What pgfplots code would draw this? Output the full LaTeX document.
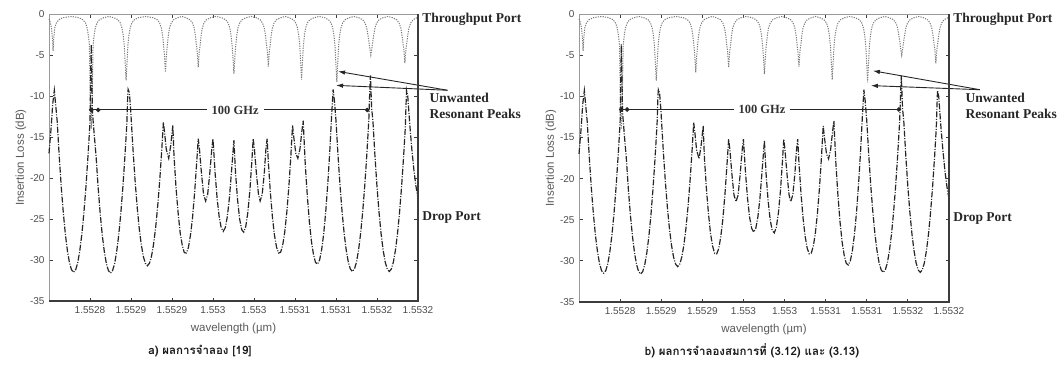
\documentclass[border=0pt]{standalone}
\usepackage{fontspec}
\setmainfont{Liberation Sans}
\newfontfamily\serifnote{Liberation Serif}
\newfontfamily\thaifont[Script=Thai]{Loma}
\usepackage{pgfplots}
\pgfplotsset{compat=1.18}
\usepackage{pgfplotstable}
\usetikzlibrary{arrows.meta}

\definecolor{inkdark}{HTML}{262626}
\definecolor{inkgray}{HTML}{7A7A7A}
\definecolor{framegray}{HTML}{3C3C3C}
\definecolor{framelight}{HTML}{9A9A9A}

% drop-port response (dB) against wavelength step (1 step = 0.05 nm)
\pgfplotstableread{
x y
0.00 -17.0
0.05 -14.0
0.09 -11.0
0.13 -9.3
0.20 -13.1
0.25 -17.4
0.30 -21.15
0.35 -24.3
0.40 -26.9
0.45 -28.9
0.50 -30.35
0.55 -31.2
0.60 -31.5
0.65 -31.2
0.70 -30.35
0.75 -28.9
0.80 -26.9
0.85 -24.3
0.90 -21.15
0.95 -17.4
0.98 -14.9
1.00 -13.1
1.015 -8.0
1.03 -3.7
1.045 -8.0
1.06 -12.0
1.10 -14.5
1.15 -17.5
1.20 -21.25
1.25 -24.4
1.30 -27.0
1.35 -29.0
1.40 -30.45
1.45 -31.3
1.50 -31.6
1.55 -31.3
1.60 -30.45
1.65 -29.0
1.70 -27.0
1.75 -24.4
1.80 -21.25
1.85 -17.5
1.88 -15.0
1.90 -13.2
1.92 -10.0
1.93 -9.2
1.96 -9.6
1.99 -11.5
2.02 -14.1
2.05 -16.6
2.10 -20.35
2.15 -23.5
2.20 -26.1
2.25 -28.1
2.30 -29.55
2.35 -30.4
2.40 -30.7
2.45 -30.4
2.50 -29.55
2.55 -28.1
2.60 -26.1
2.65 -23.5
2.70 -20.35
2.75 -16.6
2.79 -13.2
2.82 -14.5
2.86 -16.5
2.92 -17.6
2.97 -16.0
3.02 -13.6
3.05 -17.4
3.10 -21.3
3.15 -24.3
3.20 -26.7
3.25 -28.2
3.30 -29.1
3.35 -29.15
3.40 -28.5
3.45 -27.0
3.50 -24.9
3.55 -21.9
3.60 -18.3
3.64 -15.2
3.67 -16.5
3.72 -19.5
3.77 -22.0
3.82 -22.8
3.87 -22.0
3.92 -19.5
3.97 -16.5
4.00 -15.2
4.05 -19.3
4.10 -22.45
4.15 -24.7
4.20 -26.05
4.25 -26.5
4.30 -26.05
4.35 -24.7
4.40 -22.45
4.45 -19.3
4.51 -15.4
4.55 -19.4
4.60 -22.7
4.65 -25.0
4.70 -26.3
4.75 -26.6
4.80 -25.9
4.85 -24.2
4.90 -21.5
4.95 -17.8
4.98 -15.2
5.01 -16.5
5.06 -19.5
5.11 -22.0
5.15 -22.8
5.20 -22.0
5.25 -19.5
5.29 -16.5
5.32 -15.2
5.35 -18.05
5.40 -21.8
5.45 -24.8
5.50 -27.0
5.55 -28.45
5.60 -29.15
5.65 -29.05
5.70 -28.2
5.75 -26.6
5.80 -24.2
5.85 -21.1
5.90 -17.2
5.94 -13.6
5.97 -15.0
6.02 -17.0
6.07 -17.6
6.12 -16.5
6.17 -14.2
6.20 -13.0
6.25 -18.3
6.30 -22.15
6.35 -25.3
6.40 -27.7
6.45 -29.3
6.50 -30.3
6.55 -30.5
6.60 -30.0
6.65 -28.75
6.70 -26.8
6.75 -24.1
6.80 -20.7
6.85 -16.6
6.89 -12.7
6.93 -9.2
6.96 -10.5
7.00 -13.0
7.05 -17.3
7.10 -21.05
7.15 -24.2
7.20 -26.8
7.25 -28.8
7.30 -30.25
7.35 -31.1
7.40 -31.4
7.45 -31.1
7.50 -30.25
7.55 -28.8
7.60 -26.8
7.65 -24.2
7.70 -21.05
7.75 -17.3
7.80 -13.0
7.82 -10.0
7.84 -7.5
7.87 -11.5
7.90 -13.0
7.95 -17.3
8.00 -21.05
8.05 -24.2
8.10 -26.8
8.15 -28.8
8.20 -30.25
8.25 -31.1
8.30 -31.4
8.35 -31.1
8.40 -30.25
8.45 -28.8
8.50 -26.8
8.55 -24.2
8.60 -21.05
8.65 -17.3
8.69 -13.9
8.72 -9.3
8.75 -10.0
8.80 -13.5
8.85 -16.5
8.90 -19.0
8.95 -21.0
9.00 -22.5
}\dropport

% through-port response (dB)
\pgfplotstableread{
x y
0.00 -0.6
0.03 -1.0
0.06 -1.7
0.085 -3.0
0.10 -4.5
0.115 -3.0
0.14 -1.7
0.18 -1.1
0.24 -0.7
0.34 -0.45
0.55 -0.3
0.73 -0.45
0.83 -0.7
0.89 -1.1
0.93 -1.7
0.96 -2.6
0.985 -3.8
1.005 -9.8
1.03 -14.0
1.055 -9.8
1.075 -3.8
1.10 -2.6
1.13 -1.7
1.17 -1.1
1.23 -0.7
1.33 -0.45
1.46 -0.3
1.58 -0.45
1.68 -0.7
1.74 -1.1
1.78 -1.7
1.81 -2.6
1.835 -3.8
1.855 -5.7
1.88 -8.1
1.905 -5.7
1.925 -3.8
1.95 -2.6
1.98 -1.7
2.02 -1.1
2.08 -0.7
2.18 -0.45
2.36 -0.3
2.54 -0.45
2.64 -0.7
2.70 -1.1
2.74 -1.7
2.77 -2.6
2.795 -3.8
2.815 -5.0
2.84 -7.1
2.865 -5.0
2.885 -3.8
2.91 -2.6
2.94 -1.7
2.98 -1.1
3.04 -0.7
3.14 -0.45
3.24 -0.3
3.34 -0.45
3.44 -0.7
3.50 -1.1
3.54 -1.7
3.57 -2.6
3.595 -3.8
3.615 -4.6
3.64 -6.5
3.665 -4.6
3.685 -3.8
3.71 -2.6
3.74 -1.7
3.78 -1.1
3.84 -0.7
3.94 -0.45
4.075 -0.3
4.21 -0.45
4.31 -0.7
4.37 -1.1
4.41 -1.7
4.44 -2.6
4.465 -3.8
4.485 -5.1
4.51 -7.3
4.535 -5.1
4.555 -3.8
4.58 -2.6
4.61 -1.7
4.65 -1.1
4.71 -0.7
4.81 -0.45
4.93 -0.3
5.05 -0.45
5.15 -0.7
5.21 -1.1
5.25 -1.7
5.28 -2.6
5.305 -3.8
5.325 -4.5
5.35 -6.4
5.375 -4.5
5.395 -3.8
5.42 -2.6
5.45 -1.7
5.49 -1.1
5.55 -0.7
5.65 -0.45
5.755 -0.3
5.86 -0.45
5.96 -0.7
6.02 -1.1
6.06 -1.7
6.09 -2.6
6.115 -3.8
6.135 -5.6
6.16 -8.0
6.185 -5.6
6.205 -3.8
6.23 -2.6
6.26 -1.7
6.30 -1.1
6.36 -0.7
6.46 -0.45
6.59 -0.3
6.72 -0.45
6.82 -0.7
6.88 -1.1
6.92 -1.7
6.95 -2.6
6.975 -3.8
6.995 -5.8
7.02 -8.3
7.045 -5.8
7.065 -3.8
7.09 -2.6
7.12 -1.7
7.16 -1.1
7.22 -0.7
7.32 -0.45
7.435 -0.3
7.55 -0.45
7.65 -0.7
7.71 -1.1
7.75 -1.7
7.78 -2.6
7.805 -3.4
7.825 -4.2
7.85 -5.0
7.875 -4.2
7.895 -3.4
7.92 -2.6
7.95 -1.7
7.99 -1.1
8.05 -0.7
8.15 -0.45
8.265 -0.3
8.38 -0.45
8.48 -0.7
8.54 -1.1
8.58 -1.7
8.61 -2.6
8.635 -3.6
8.655 -4.3
8.68 -6.0
8.705 -4.3
8.725 -3.6
8.75 -2.6
8.78 -1.7
8.82 -1.1
8.88 -0.7
8.95 -0.5
9.00 -0.45
}\thruport

\pgfplotsset{
  spectrum/.style={
    scale only axis,
    xmin=0, xmax=9, ymin=-35, ymax=0,
    xtick={1,...,9},
    xticklabels={1.5528,1.5529,1.5529,1.553,1.553,1.5531,1.5531,1.5532,1.5532},
    ytick={-35,-30,...,0},
    yticklabels={-35,-30,-25,-20,-15,-10,-5,0},
    tick align=inside,
    major tick length=3.5pt,
    tick style={framegray, line width=0.8pt},
    axis line style={framelight, line width=0.9pt},
    ticklabel style={font=\fontsize{10}{11}\selectfont, text=black!70},
    xticklabel style={yshift=-2pt},
    yticklabel style={xshift=-1pt},
    xlabel={wavelength (µm)},
    ylabel={Insertion Loss (dB)},
    label style={font=\fontsize{11.5}{13}\selectfont, text=black!65},
    xlabel style={yshift=-3pt},
    ylabel style={yshift=-3pt},
    clip=false,
  },
  thru/.style={inkgray, line width=1pt, dash pattern=on 1.2pt off 1.2pt},
  drop/.style={inkdark, line width=1.2pt, dash pattern=on 6pt off 1.5pt on 1pt off 1.5pt},
  spacing/.style={black!85, line width=0.9pt, mark=*, mark size=1.8pt, mark options={solid}},
}
\tikzset{
  note/.style={font=\serifnote\bfseries\fontsize{13.5}{16}\selectfont, text=black!85},
  gap/.style={fill=white, inner xsep=5pt, inner ysep=1pt, font=\serifnote\bfseries\fontsize{12.5}{13}\selectfont, text=black!80},
  peakarrow/.style={black!85, line width=0.9pt, -{Latex[length=7pt,width=4.5pt]}},
  darkframe/.style={framegray, line width=1.3pt},
  caption/.style={font=\thaifont\bfseries\fontsize{11.5}{13}\selectfont, text=black!90},
}

\begin{document}
\begin{tikzpicture}
\path[use as bounding box] (0,0) rectangle (1064pt,368pt);

% ---- panel a ----
\begin{axis}[spectrum, at={(49pt,67pt)}, anchor=south west, width=369pt, height=287pt]
  \addplot[thru] table {\thruport};
  \addplot[drop] table {\dropport};
  \addplot[spacing] coordinates {(1.03,-11.7) (1.2,-11.7) (7.76,-11.7)};
  \node[gap] at (axis cs:4.54,-11.7) {100 GHz};
  \node[note, anchor=west] at (axis cs:9.02,-0.7) {Throughput Port};
  \node[note, anchor=west] at (axis cs:9.02,-24.8) {Drop Port};
  \node[note, anchor=west, align=left, inner sep=0pt] at (axis cs:9.28,-11.2) {Unwanted\\Resonant Peaks};
  \draw[peakarrow] (axis cs:9.72,-9.3) -- (axis cs:7.05,-7.0);
  \draw[peakarrow] (axis cs:9.72,-9.3) -- (axis cs:7.0,-8.7);
  \draw[darkframe] (rel axis cs:0,0) -- (rel axis cs:1,0) -- (rel axis cs:1,1);
\end{axis}

% ---- panel b ----
\begin{axis}[spectrum, at={(579pt,66pt)}, anchor=south west, width=370pt, height=288pt]
  \addplot[thru] table {\thruport};
  \addplot[drop] table {\dropport};
  \addplot[spacing] coordinates {(1.03,-11.6) (1.17,-11.6) (7.78,-11.6)};
  \node[gap] at (axis cs:4.45,-11.6) {100 GHz};
  \node[note, anchor=west] at (axis cs:9.02,-0.7) {Throughput Port};
  \node[note, anchor=west] at (axis cs:9.02,-24.8) {Drop Port};
  \node[note, anchor=west, align=left, inner sep=0pt] at (axis cs:9.4,-11.2) {Unwanted\\Resonant Peaks};
  \draw[peakarrow] (axis cs:9.75,-9.2) -- (axis cs:7.15,-6.9);
  \draw[peakarrow] (axis cs:9.75,-9.2) -- (axis cs:7.1,-8.7);
  \draw[darkframe] (rel axis cs:0,0) -- (rel axis cs:1,0) -- (rel axis cs:1,1);
\end{axis}

% captions
\node[caption] at (200pt,17pt) {a) ผลการจำลอง [19]};
\node[caption] at (752pt,17pt) {b) ผลการจำลองสมการที่ (3.12) และ (3.13)};
\end{tikzpicture}
\end{document}
